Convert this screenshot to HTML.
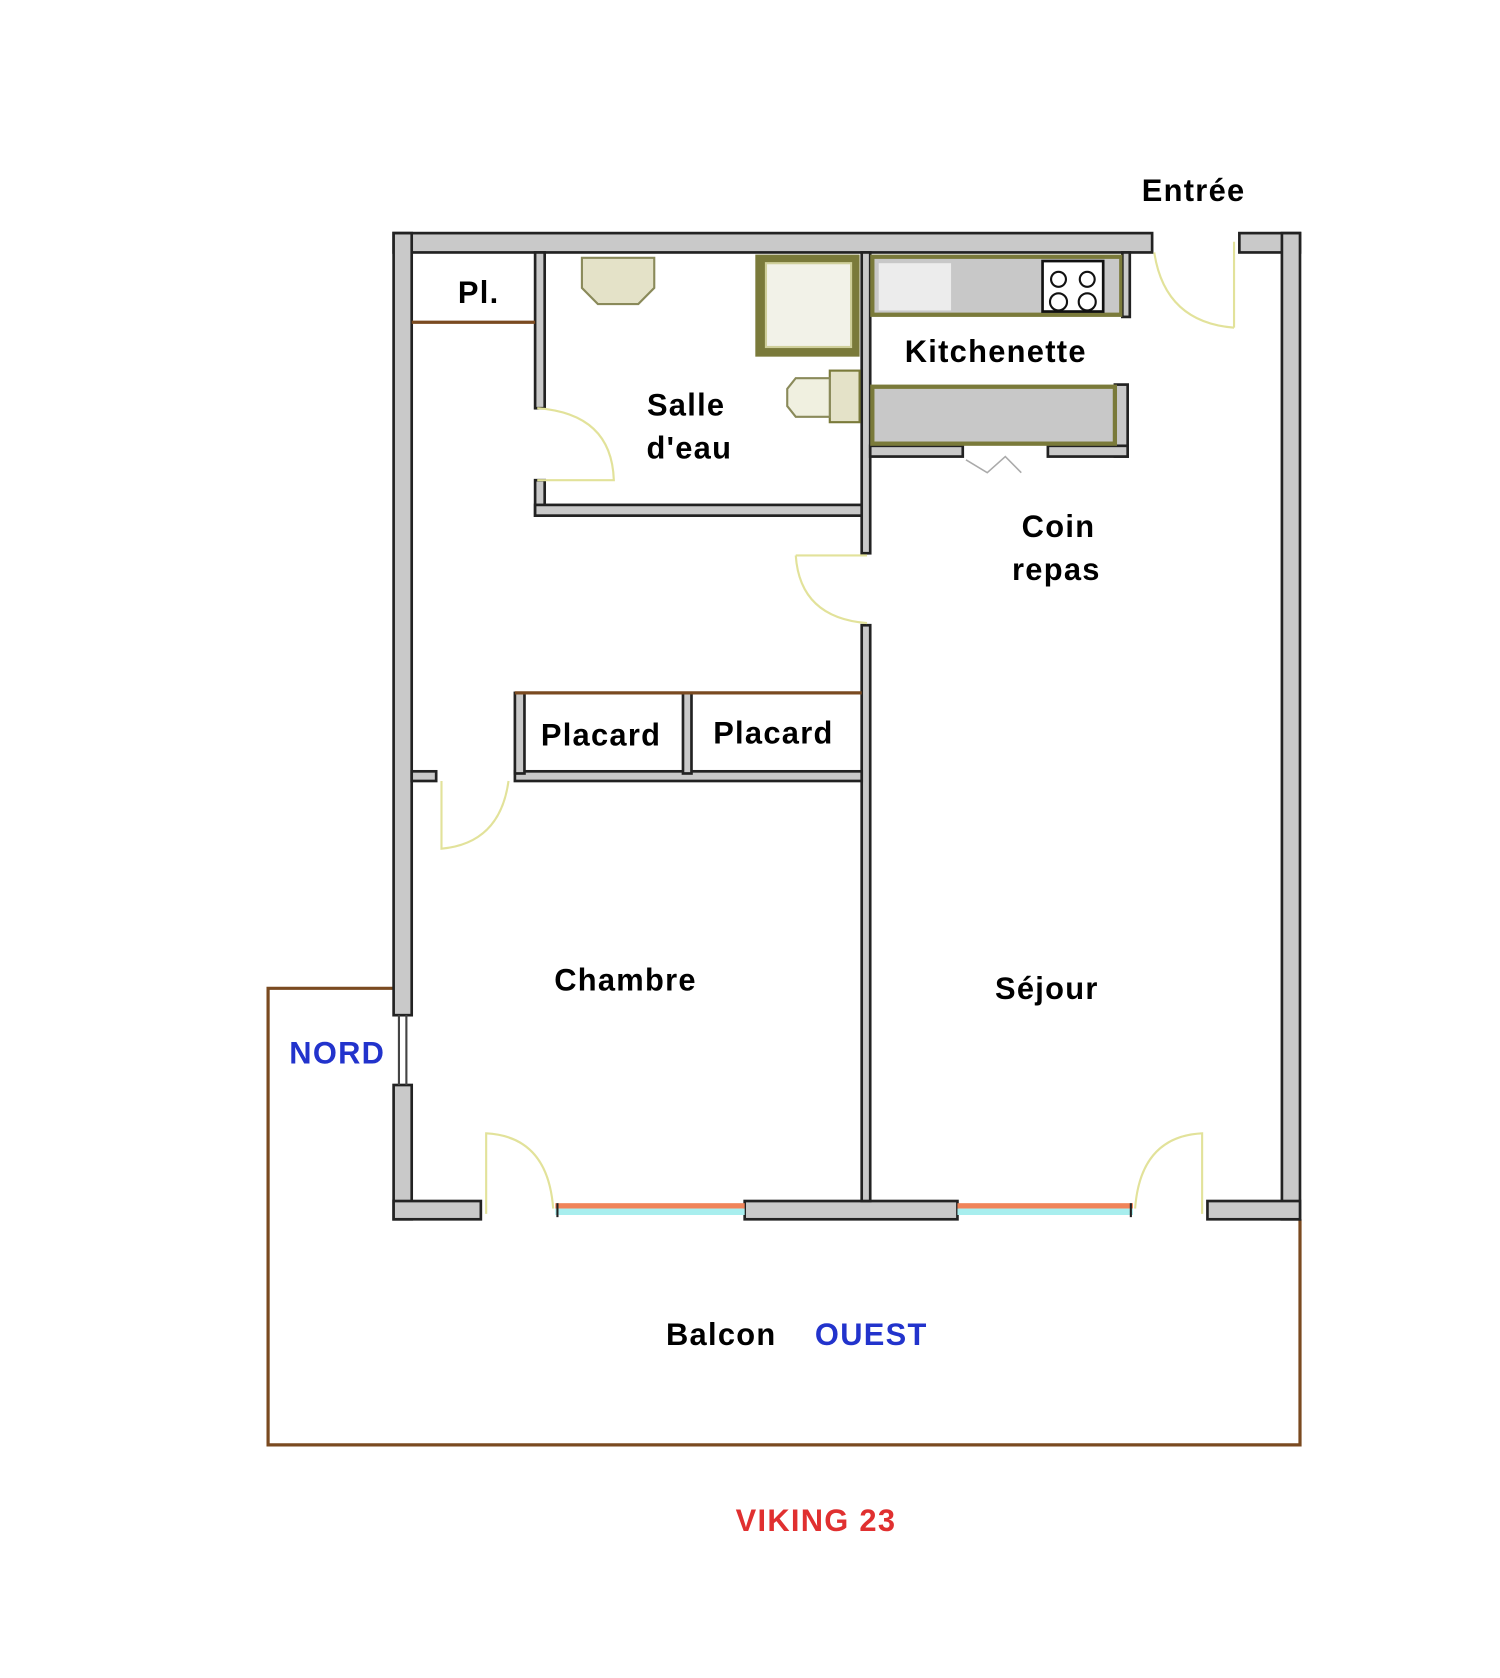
<!DOCTYPE html>
<html><head><meta charset="utf-8"><style>
html,body{margin:0;padding:0;background:#fff;}
svg{display:block;}
text{font-family:"Liberation Sans",sans-serif;font-weight:bold;font-size:29px;text-anchor:middle;letter-spacing:1.2px;}
</style></head><body>
<svg width="1500" height="1678" viewBox="0 0 1410 1562" preserveAspectRatio="none" xmlns="http://www.w3.org/2000/svg">
<rect width="1410" height="1562" fill="#fff"/>
<polyline points="370,920 252,920 252,1345 1222,1345 1222,1135" fill="none" stroke="#7a4a20" stroke-width="3"/>
<g fill="#c9c9c9" stroke="#222" stroke-width="2.5">
<rect x="370" y="217" width="713" height="18"/>
<rect x="1165" y="217" width="57" height="18"/>
<rect x="1205" y="217" width="17" height="918"/>
<rect x="370" y="217" width="17" height="728"/>
<rect x="370" y="1010" width="17" height="125"/>
<rect x="370" y="1118" width="82" height="17"/>
<rect x="700" y="1118" width="200" height="17"/>
<rect x="1135" y="1118" width="87" height="17"/>
<rect x="503" y="235" width="9" height="145"/>
<rect x="503" y="447" width="9" height="33"/>
<rect x="503" y="470" width="309" height="10"/>
<rect x="810" y="235" width="8" height="280"/>
<rect x="810" y="582" width="8" height="536"/>
<rect x="484" y="718" width="326" height="9"/>
<rect x="387" y="718" width="23" height="9"/>
<rect x="484" y="645" width="9" height="75"/>
<rect x="642" y="645" width="8" height="75"/>
<rect x="1055" y="235" width="7" height="60"/>
<rect x="1048" y="358" width="12" height="67"/>
<rect x="818" y="415" width="87" height="10"/>
<rect x="985" y="415" width="75" height="10"/>
</g>
<line x1="484" y1="645" x2="810" y2="645" stroke="#7a4a20" stroke-width="3"/>
<line x1="387" y1="300" x2="503" y2="300" stroke="#7a4a20" stroke-width="3"/>
<line x1="375" y1="945" x2="375" y2="1010" stroke="#444" stroke-width="2"/>
<line x1="382" y1="945" x2="382" y2="1010" stroke="#444" stroke-width="2"/>
<g>
<rect x="522" y="1120" width="178" height="5" fill="#f0845a"/>
<rect x="522" y="1125" width="178" height="6" fill="#a8eeee"/>
<rect x="900" y="1120" width="165" height="5" fill="#f0845a"/>
<rect x="900" y="1125" width="165" height="6" fill="#a8eeee"/>
<line x1="524" y1="1120" x2="524" y2="1133" stroke="#222" stroke-width="2"/>
<line x1="1063" y1="1120" x2="1063" y2="1133" stroke="#222" stroke-width="2"/>
</g>
<g fill="none" stroke="#e2e29a" stroke-width="2">
<path d="M1160,305 L1160,225 M1160,305 Q1095,300 1085,235"/>
<path d="M505,447 L577,447 Q575,385 505,380"/>
<path d="M748,517 L815,517 M748,517 Q752,575 815,580"/>
<path d="M415,727 L415,790 Q470,785 478,727"/>
<path d="M457,1130 L457,1055 Q515,1058 520,1125"/>
<path d="M1130,1130 L1130,1055 Q1072,1058 1067,1125"/>
</g>
<path d="M908,428 L928,440 L945,425 L960,440" fill="none" stroke="#aaa" stroke-width="1.5"/>
<rect x="710" y="237" width="98" height="95" fill="#7a7a3a"/>
<rect x="720" y="245" width="80" height="78" fill="#f2f2e8" stroke="#cfcf9a" stroke-width="2"/>
<path d="M547,240 L615,240 L615,268 L600,283 L562,283 L547,268 Z" fill="#e4e2c8" stroke="#8a8a5a" stroke-width="2"/>
<rect x="780" y="345" width="28" height="48" fill="#e4e2c8" stroke="#7a7a3a" stroke-width="2"/>
<path d="M780,352 L748,352 L740,362 L740,378 L748,388 L780,388 Z" fill="#f0f0e0" stroke="#8a8a5a" stroke-width="2"/>
<rect x="818" y="237" width="237" height="58" fill="#7a7a3a"/>
<rect x="822" y="241" width="230" height="50" fill="#c8c8c8"/>
<rect x="826" y="245" width="68" height="44" fill="#ececec"/>
<rect x="980" y="243" width="57" height="47" fill="#fff" stroke="#111" stroke-width="2.5"/>
<g fill="none" stroke="#111" stroke-width="2">
<circle cx="995" cy="260" r="7"/><circle cx="1022" cy="260" r="7"/>
<circle cx="995" cy="281" r="8"/><circle cx="1022" cy="281" r="8"/>
</g>
<rect x="818" y="358" width="232" height="57" fill="#7a7a3a"/>
<rect x="822" y="362" width="224" height="49" fill="#c8c8c8"/>
<text x="1122" y="187">Entrée</text>
<text x="450" y="282">Pl.</text>
<text x="936" y="337">Kitchenette</text>
<text x="645" y="387">Salle</text>
<text x="648" y="427">d'eau</text>
<text x="995" y="500">Coin</text>
<text x="993" y="540">repas</text>
<text x="565" y="694">Placard</text>
<text x="727" y="692">Placard</text>
<text x="588" y="922">Chambre</text>
<text x="984" y="930">Séjour</text>
<text x="317" y="990" fill="#2233cc">NORD</text>
<text x="678" y="1252">Balcon</text>
<text x="819" y="1252" fill="#2233cc">OUEST</text>
<text x="767" y="1425" fill="#e03030">VIKING 23</text>
</svg>
</body></html>
